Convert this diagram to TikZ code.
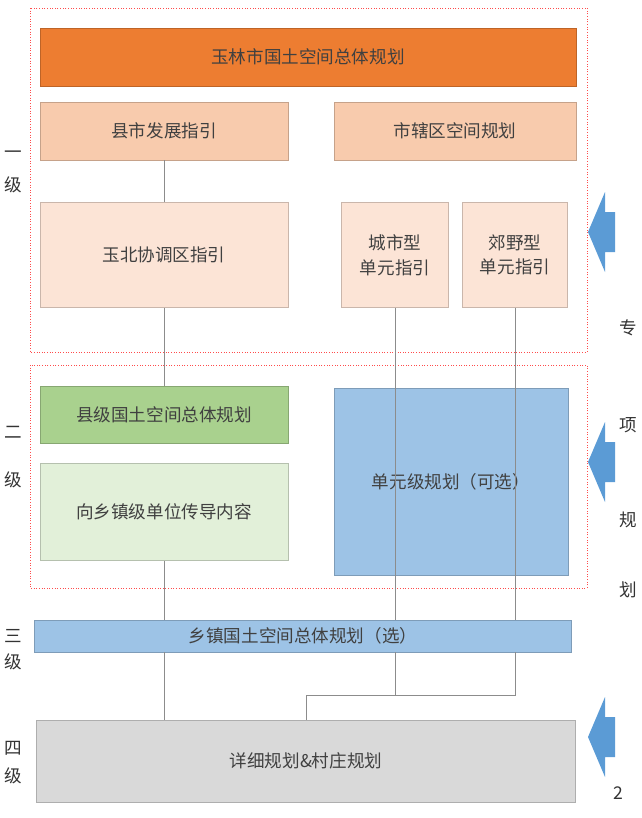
\documentclass[tikz,border=0pt]{standalone}
\usepackage{fontspec}
\setmainfont{Noto Sans CJK SC}
\begin{document}
\begin{tikzpicture}[x=0.02cm,y=-0.02cm,
  font=\fontsize{10}{14}\selectfont,
  box/.style={rectangle, draw=#1!80!black, fill=#1, line width=0.3pt, inner sep=0pt, text=black!75, align=center},
  zone/.style={draw=red!70, densely dotted, line width=0.5pt},
  link/.style={draw=black!45, line width=0.5pt},
  side/.style={text=black!80},
  bigarrow/.style={fill=arrowblue, draw=none}]
\definecolor{org}{HTML}{ED7D31}
\definecolor{peach}{HTML}{F8CBAD}
\definecolor{lpeach}{HTML}{FCE4D6}
\definecolor{grn}{HTML}{A9D18E}
\definecolor{lgrn}{HTML}{E2F0D9}
\definecolor{blu}{HTML}{9DC3E6}
\definecolor{gry}{HTML}{D9D9D9}
\definecolor{arrowblue}{HTML}{5B9BD5}
\useasboundingbox (0,0) rectangle (642,818);

%Zones
\draw[zone] (30,8) rectangle (587,352);
\draw[zone] (30,365) rectangle (587,588);

%Level one
\node[box=org, minimum width=536*0.02cm, minimum height=58*0.02cm] (yulin) at (308,57) {玉林市国土空间总体规划};
\node[box=peach, minimum width=248*0.02cm, minimum height=58*0.02cm] (xianshi) at (164,131) {县市发展指引};
\node[box=peach, minimum width=242*0.02cm, minimum height=58*0.02cm] (shixia) at (455,131) {市辖区空间规划};
\node[box=lpeach, minimum width=248*0.02cm, minimum height=105*0.02cm] (yubei) at (164,255) {玉北协调区指引};
\node[box=lpeach, minimum width=107*0.02cm, minimum height=105*0.02cm] (chengshi) at (395,255) {城市型\\单元指引};
\node[box=lpeach, minimum width=105*0.02cm, minimum height=105*0.02cm] (jiaoye) at (515,255) {郊野型\\单元指引};

%Level two
\node[box=grn, minimum width=248*0.02cm, minimum height=57*0.02cm] (xianji) at (164,415) {县级国土空间总体规划};
\node[box=lgrn, minimum width=248*0.02cm, minimum height=97*0.02cm] (xiangzhen) at (164,512) {向乡镇级单位传导内容};
\node[box=blu, minimum width=234*0.02cm, minimum height=187*0.02cm] (danyuan) at (451,482) {单元级规划（可选）};

%Level three and four
\node[box=blu, minimum width=537*0.02cm, minimum height=32*0.02cm] (town) at (303,636) {乡镇国土空间总体规划（选）};
\node[box=gry, minimum width=539*0.02cm, minimum height=82*0.02cm] (detail) at (306,761) {详细规划\&村庄规划};

%Links
\draw[link] (xianshi) -- (yubei);
\draw[link] (yubei) -- (xianji);
\draw[link] (xiangzhen.south) -- (town.north -| xiangzhen);
\draw[link] (town.south -| xianji) -- (detail.north -| xianji);
\draw[link] (chengshi.south) -- (town.north -| chengshi);
\draw[link] (jiaoye.south) -- (town.north -| jiaoye);
\coordinate (bend) at (306,695);
\draw[link] (town.south -| chengshi) -- (chengshi |- bend);
\draw[link] (town.south -| jiaoye) -- (jiaoye |- bend) -- (bend) -- (detail.north -| bend);

%Levels
\foreach \t/\y in {一/155, 级/185, 二/432, 级/480, 三/636, 级/662, 四/748, 级/776}
  \node[side] (lv\y) at (13,\y) {\t};
\foreach \t/\y in {专/328, 项/425, 规/520, 划/590}
  \node[side] (zx\y) at (628,\y) {\t};
\node[side] (page) at (618,793) {2};

%Arrows
\foreach \y in {232,462,737}
  \fill[bigarrow] (588,\y) -- (605,\y-40) -- (605,\y-20) -- (615,\y-20) -- (615,\y+20) -- (605,\y+20) -- (605,\y+40) -- cycle;
\end{tikzpicture}
\end{document}
